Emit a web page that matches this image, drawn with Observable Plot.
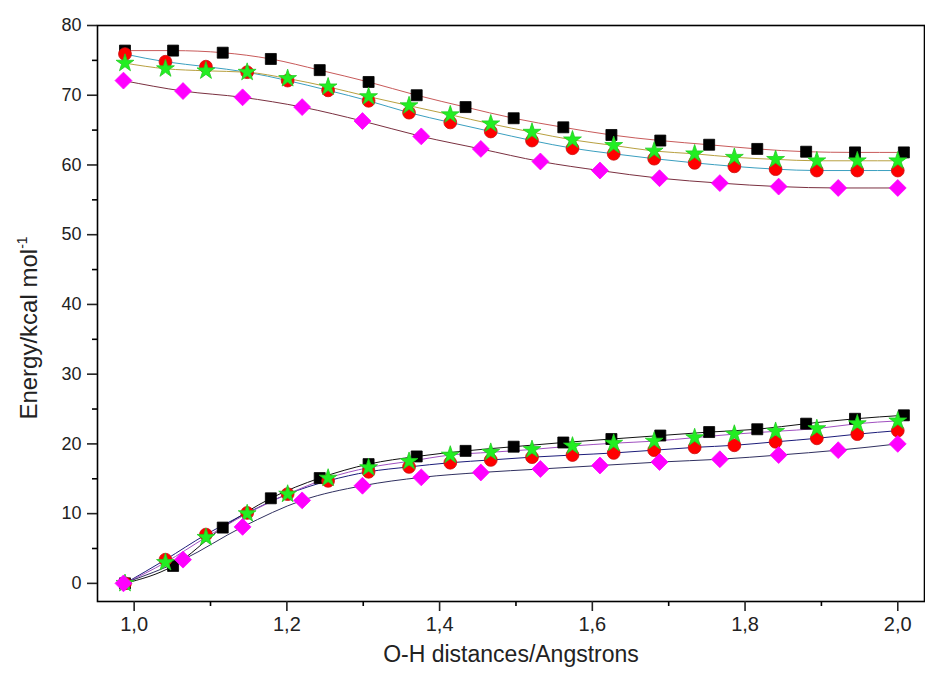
<!DOCTYPE html>
<html><head><meta charset="utf-8">
<script src="https://cdn.jsdelivr.net/npm/d3@7"></script>
<script src="https://cdn.jsdelivr.net/npm/@observablehq/plot@0.6"></script>
<style>
body{margin:0;background:#fff;}
#chart{width:925px;height:675px;}
#chart svg{font-family:Arial,"Liberation Sans",sans-serif;}
</style>
</head><body><div id="chart"></div>
<script>
// x positions (Å)
const xSquares  = [0.988,1.051,1.116,1.179,1.243,1.307,1.370,1.434,1.497,1.562,1.625,1.689,1.753,1.816,1.880,1.944,2.008];
const xCircles  = [0.988,1.041,1.094,1.148,1.201,1.254,1.307,1.360,1.414,1.467,1.521,1.574,1.628,1.681,1.734,1.786,1.840,1.894,1.947,2.000];
const xStars    = [0.988,1.041,1.094,1.148,1.201,1.254,1.307,1.360,1.414,1.467,1.521,1.574,1.628,1.681,1.734,1.786,1.840,1.894,1.947,2.000];
const xDiamonds = [0.986,1.064,1.142,1.220,1.299,1.376,1.454,1.532,1.610,1.688,1.767,1.844,1.922,2.000];

// upper (excited) curves, kcal/mol
const upSquares  = [76.4,76.4,76.1,75.2,73.6,71.9,70.0,68.3,66.7,65.4,64.3,63.5,62.9,62.3,61.9,61.8,61.8];
const upCircles  = [75.9,74.8,74.1,73.3,72.1,70.7,69.2,67.5,66.1,64.8,63.5,62.4,61.6,60.9,60.3,59.8,59.4,59.2,59.2,59.2];
const upStars    = [74.6,73.8,73.5,73.3,72.4,71.2,69.8,68.5,67.2,65.9,64.7,63.6,62.8,62.0,61.6,61.1,60.8,60.6,60.6,60.6];
const upDiamonds = [72.1,70.6,69.7,68.3,66.3,64.1,62.3,60.5,59.2,58.1,57.4,56.9,56.7,56.7];

// lower (ground) curves
const loSquares  = [0,2.5,8.0,12.2,15.1,17.1,18.2,19.0,19.6,20.2,20.7,21.2,21.7,22.1,22.9,23.6,24.1];
const loCircles  = [0,3.4,7.0,10.1,12.8,14.7,16.0,16.7,17.3,17.7,18.1,18.4,18.7,19.1,19.5,19.8,20.3,20.8,21.4,21.9];
const loStars    = [0,3.0,6.6,10.0,12.8,15.1,16.6,17.5,18.4,18.8,19.2,19.7,20.1,20.4,20.9,21.4,21.8,22.2,22.9,23.3];
const loDiamonds = [0,3.4,8.1,11.9,14.0,15.2,15.9,16.4,16.9,17.4,17.8,18.4,19.1,20.0];

const xMajorTicks = [1.0,1.2,1.4,1.6,1.8,2.0];
const xMinorTicks = [1.1,1.3,1.5,1.7,1.9];
const yMajorTicks = [0,10,20,30,40,50,60,70,80];
const yMinorTicks = [5,15,25,35,45,55,65,75];

const xLabel = "O-H distances/Angstrons";
const yLabelMain = "Energy/kcal mol";
const yLabelSup = "-1";

const mk = (xs, ys) => xs.map((x, i) => ({x, y: ys[i]}));

const series = [
  {xs: xSquares,  up: upSquares,  lo: loSquares,  symbol: "square",   fill: "#000000", stroke: "#000000", upLine: "#c85a5a", loLine: "#111111", r: 6.2},
  {xs: xCircles,  up: upCircles,  lo: loCircles,  symbol: "circle",   fill: "#ff0000", stroke: "#cc1010", upLine: "#3a9fbf", loLine: "#1c1c7a", r: 6.4},
  {xs: xStars,    up: upStars,    lo: loStars,    symbol: "star",     fill: "#22ee22", stroke: "#22cc22", upLine: "#b8a040", loLine: "#a050c0", r: 5.6},
  {xs: xDiamonds, up: upDiamonds, lo: loDiamonds, symbol: "diamond2", fill: "#ff00ff", stroke: "#ff00ff", upLine: "#7a3040", loLine: "#303060", r: 7.6}
];

const lineMarks = [];
const dotMarks = [];
for (const s of series) {
  lineMarks.push(Plot.line(mk(s.xs, s.up), {x: "x", y: "y", stroke: s.upLine, strokeWidth: 1, curve: "monotone-x"}));
  lineMarks.push(Plot.line(mk(s.xs, s.lo), {x: "x", y: "y", stroke: s.loLine, strokeWidth: 1, curve: "monotone-x"}));
}
for (const s of series) {
  const pts = mk(s.xs, s.up).concat(mk(s.xs, s.lo));
  dotMarks.push(Plot.dot(pts, {x: "x", y: "y", symbol: () => s.symbol, r: s.r, fill: s.fill, stroke: s.stroke, strokeWidth: 0.8}));
}

const chart = Plot.plot({
  width: 925,
  height: 675,
  marginLeft: 97,
  marginRight: 1,
  marginTop: 25,
  marginBottom: 74,
  x: {domain: [0.952, 2.035]},
  y: {domain: [-2.6, 80]},
  symbol: {type: "identity"},
  marks: [
    ...lineMarks,
    ...dotMarks,
    Plot.frame({stroke: "#000", strokeWidth: 1.6}),
    Plot.axisX(xMajorTicks, {tickSize: 10, tickPadding: 5, strokeWidth: 1.6, fontSize: 20, color: "#222", tickFormat: d => d.toFixed(1).replace(".", ","), label: null}),
    Plot.axisX(xMinorTicks, {tickSize: 5, strokeWidth: 1.6, tickFormat: () => "", label: null}),
    Plot.axisY(yMajorTicks, {tickSize: 10, tickPadding: 6, strokeWidth: 1.6, fontSize: 18, color: "#222", tickFormat: d => String(d), label: null}),
    Plot.axisY(yMinorTicks, {tickSize: 5, strokeWidth: 1.6, tickFormat: () => "", label: null}),
    Plot.text([xLabel], {frameAnchor: "bottom", dy: 60, fontSize: 23, fill: "#222", text: d => d})
  ]
});
document.getElementById("chart").appendChild(chart);

// y-axis title with superscript
const svg = d3.select(chart);
const t = svg.append("text")
  .attr("transform", "translate(37,328) rotate(-90)")
  .attr("text-anchor", "middle")
  .attr("fill", "#222")
  .attr("font-size", 24)
  .attr("font-family", "Arial, 'Liberation Sans', sans-serif");
t.append("tspan").text(yLabelMain);
t.append("tspan").attr("font-size", 14).attr("dy", -10).text(yLabelSup);
</script>
</body></html>
